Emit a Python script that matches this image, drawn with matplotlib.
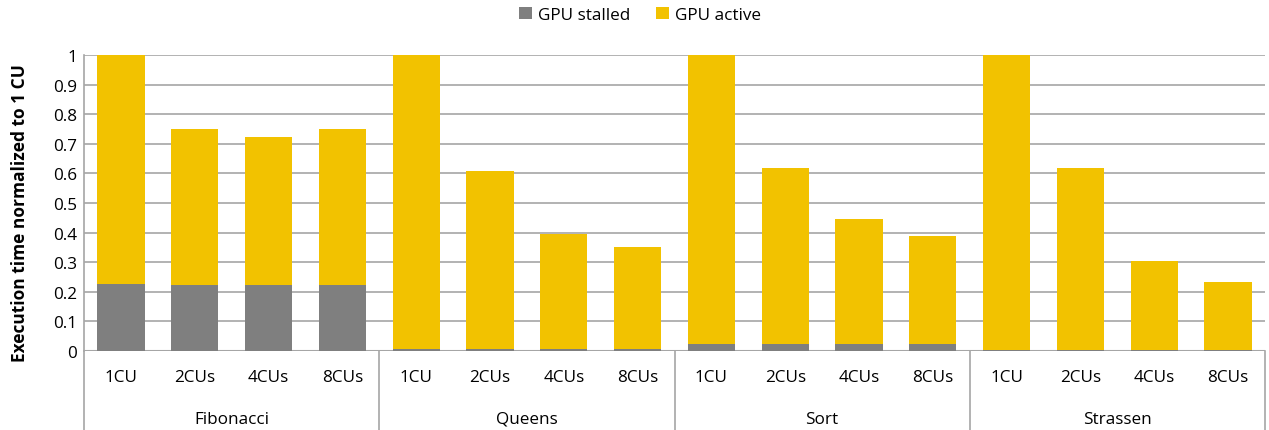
import matplotlib
matplotlib.use("Agg")
import matplotlib.pyplot as plt
from matplotlib.patches import Patch
from matplotlib.transforms import blended_transform_factory
import numpy as np

groups = ["Fibonacci", "Queens", "Sort", "Strassen"]
configs = ["1CU", "2CUs", "4CUs", "8CUs"]
stalled = [0.227, 0.222, 0.224, 0.224,
           0.006, 0.006, 0.006, 0.006,
           0.022, 0.022, 0.022, 0.022,
           0.003, 0.003, 0.003, 0.003]
total = [1.0, 0.750, 0.722, 0.750,
         1.0, 0.608, 0.394, 0.350,
         1.0, 0.618, 0.447, 0.387,
         1.0, 0.617, 0.303, 0.232]
active = [t - s for t, s in zip(total, stalled)]
yticks = [0, 0.1, 0.2, 0.3, 0.4, 0.5, 0.6, 0.7, 0.8, 0.9, 1]
ytick_labels = ["0", "0.1", "0.2", "0.3", "0.4", "0.5", "0.6", "0.7", "0.8", "0.9", "1"]

plt.rcParams['font.family'] = ['Open Sans', 'DejaVu Sans']

GRAY = "#7f7f7f"
GOLD = "#f2c200"
LINE = "#a6a6a6"
FS = 12.3

fig = plt.figure(figsize=(12.69, 4.31), dpi=100)
ax = fig.add_axes([84/1269, 79/431, (1265-84)/1269, (352-56)/431])

x = np.arange(len(total))
ax.bar(x, stalled, width=0.64, color=GRAY, zorder=3)
ax.bar(x, active, bottom=stalled, width=0.64, color=GOLD, zorder=3)

ax.set_xlim(-0.5, len(total) - 0.5)
ax.set_ylim(0, 1)
ax.set_yticks(yticks)
ax.set_yticklabels(ytick_labels, fontsize=FS)
ax.yaxis.grid(True, color=LINE, linewidth=1.2, zorder=0)
ax.tick_params(axis='y', length=0, pad=5)
ax.set_xticks([])
for s in ["top", "right", "bottom"]:
    ax.spines[s].set_visible(False)
ax.spines["left"].set_color(LINE)
ax.spines["left"].set_linewidth(1.2)
ax.axhline(0, color=LINE, linewidth=1.5, zorder=2)

ax.set_ylabel("Execution time normalized to 1 CU", fontsize=12.5, fontweight='bold')
ax.yaxis.set_label_coords(-55/1181, 0.47)

trans = blended_transform_factory(ax.transData, ax.transAxes)
bottom_frac = -79 / 296
# category separators
for i in range(len(groups) + 1):
    xs = i * len(configs) - 0.5
    ax.plot([xs, xs], [0, bottom_frac], transform=trans, color=LINE,
            linewidth=1.2, clip_on=False)
# tick labels
for i in range(len(total)):
    ax.text(x[i], -26 / 296, configs[i % len(configs)], transform=trans,
            ha='center', va='center', fontsize=FS)
for g, name in enumerate(groups):
    cx = g * len(configs) + (len(configs) - 1) / 2
    ax.text(cx, -68 / 296, name, transform=trans, ha='center', va='center',
            fontsize=FS)

handles = [Patch(facecolor=GRAY, label="GPU stalled"),
           Patch(facecolor=GOLD, label="GPU active")]
fig.legend(handles=handles, loc='center', bbox_to_anchor=(640/1269, 1 - 16/431),
           ncol=2, frameon=False, fontsize=FS, handlelength=0.75, handleheight=0.75,
           handletextpad=0.35, columnspacing=1.5)

fig.savefig("out.png", dpi=100)
